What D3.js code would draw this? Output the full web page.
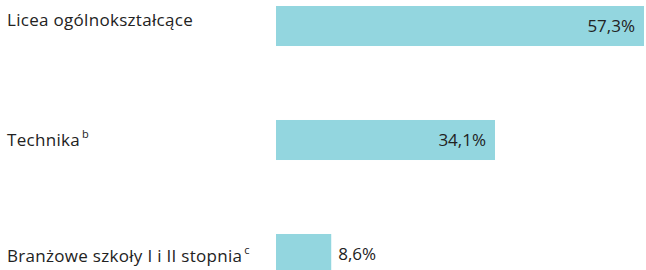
<!DOCTYPE html>
<html>
<head>
<meta charset="utf-8">
<script src="https://cdn.jsdelivr.net/npm/d3@7"></script>
<style>
  body { margin: 0; background: #fff; }
  svg { display: block; font-family: "Open Sans", sans-serif; }
</style>
</head>
<body>
<svg></svg>
<script>
// categories, footnote marks and shares (%)
const categories = ['Licea ogólnokształcące', 'Technika', 'Branżowe szkoły I i II stopnia']
const notes = ['', 'b', 'c']
const shares = [57.3, 34.1, 8.6]

const width = 646
const height = 270

const svg = d3.select('svg').attr('width', width).attr('height', height)

const rows = categories.map((name, i) => ({ name, note: notes[i], value: shares[i] }))

// bars start at 276, longest ends near the right edge
const x = d3.scaleLinear().domain([0, d3.max(shares)]).range([276, 644])
// 40px bars every 114px, the last one runs off the bottom
const y = d3.scaleBand().domain(categories).range([6, 274]).paddingInner(0.649).paddingOuter(0)

const fmt = v => d3.format('.1f')(v).replace('.', ',') + '%'

const row = svg.selectAll('g.row').data(rows).enter().append('g').attr('class', 'row')

row.append('rect')
    .attr('x', x(0))
    .attr('y', d => y(d.name))
    .attr('width', d => x(d.value) - x(0))
    .attr('height', y.bandwidth())
    .attr('fill', '#93d6df')

// category labels on the left
const label = row.append('text')
    .attr('x', 7)
    .attr('y', (d, i) => y(d.name) + y.bandwidth() / 2 + [0, 6, 8][i])
    .attr('font-size', 17)
    .attr('letter-spacing', 0.3)
    .attr('fill', '#222')
label.append('tspan').text(d => d.name)
label.append('tspan')
    .attr('dx', 2)
    .attr('dy', -8)
    .attr('font-size', 11)
    .text(d => d.note)

// value labels: inside the bar if it is wide enough, else just after it
row.append('text')
    .attr('x', d => x(d.value) - x(0) > 80 ? x(d.value) - 9 : x(d.value) + 7)
    .attr('y', d => y(d.name) + y.bandwidth() / 2 + 6)
    .attr('text-anchor', d => x(d.value) - x(0) > 80 ? 'end' : 'start')
    .attr('font-size', 17)
    .attr('fill', '#222')
    .text(d => fmt(d.value))
</script>
</body>
</html>
